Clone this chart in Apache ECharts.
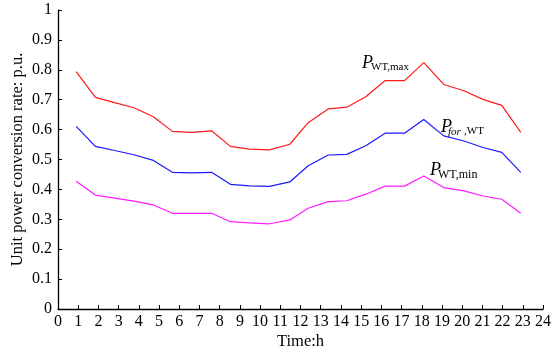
<!DOCTYPE html>
<html><head><meta charset="utf-8">
<script src="https://cdn.jsdelivr.net/npm/echarts@6/dist/echarts.min.js"></script>
<style>html,body{margin:0;padding:0;background:#fff}#c{width:558px;height:352px}</style>
</head><body><div id="c"></div>
<script>
const hours = [0.9,1.85,2.8,3.76,4.72,5.66,6.6,7.6,8.53,9.48,10.47,11.47,12.38,13.37,14.29,15.23,16.19,17.15,18.1,19.09,20.09,21.03,21.96,22.9];
const pMax = [0.794,0.708,0.690,0.673,0.643,0.594,0.591,0.596,0.544,0.535,0.532,0.551,0.623,0.669,0.675,0.710,0.764,0.764,0.824,0.751,0.730,0.701,0.681,0.591];
const pFor = [0.611,0.544,0.530,0.516,0.497,0.457,0.455,0.457,0.417,0.412,0.410,0.425,0.479,0.515,0.517,0.546,0.588,0.588,0.634,0.579,0.562,0.540,0.524,0.457];
const pMin = [0.427,0.381,0.371,0.361,0.348,0.320,0.320,0.320,0.292,0.288,0.285,0.298,0.337,0.359,0.362,0.384,0.411,0.411,0.445,0.406,0.395,0.378,0.367,0.320];
const xTicks = [0,24,1];
const yTicks = [0,1,0.1];

const F = '"Liberation Serif","Times New Roman",serif';
const pair = arr => hours.map((h,i)=>[h,arr[i]]);
const chart = echarts.init(document.getElementById('c'));
const axisCommon = {
  axisLine:{show:true,lineStyle:{color:'#000',width:1.3}},
  axisTick:{show:true,inside:true,length:4,lineStyle:{color:'#000',width:1}},
  splitLine:{show:false},
  axisLabel:{color:'#000',fontFamily:F,fontSize:16},
  nameTextStyle:{color:'#000',fontFamily:F,fontSize:16.5},
  nameMoveOverlap:false
};
function ser(name,data,color){
  return {name,type:'line',data:pair(data),symbol:'none',lineStyle:{color,width:1.2},itemStyle:{color},animation:false};
}
function lbl(x,y,sub,subItalic,size,off){
  const els=[{type:'text',left:x,top:y,style:{text:'P',font:'italic 18px '+F,fill:'#000'}}];
  let sx=x+off;
  if(subItalic){
    els.push({type:'text',left:sx,top:y+9,style:{text:subItalic,font:'italic '+size+'px '+F,fill:'#000'}});
    sx+=16;
  }
  els.push({type:'text',left:sx,top:y+8,style:{text:sub,font:size+'px '+F,fill:'#000'}});
  return els;
}
chart.setOption({
  animation:false,
  grid:{left:58,right:15,top:10,bottom:43,containLabel:false,outerBoundsMode:'none'},
  xAxis:Object.assign({},axisCommon,{type:'value',min:xTicks[0],max:xTicks[1],interval:xTicks[2],name:'Time:h',nameLocation:'middle',nameGap:24,
    axisLabel:Object.assign({},axisCommon.axisLabel,{margin:5})}),
  yAxis:Object.assign({},axisCommon,{type:'value',min:yTicks[0],max:yTicks[1],interval:yTicks[2],name:'Unit power conversion rate: p.u.',nameLocation:'middle',nameGap:32,
    axisLabel:Object.assign({},axisCommon.axisLabel,{margin:6,formatter:v=>String(+v.toFixed(1))})}),
  series:[ser('max',pMax,'#ff1a1a'),ser('for',pFor,'#1a1aff'),ser('min',pMin,'#ff1aff')],
  graphic:[].concat(
    lbl(362,54,'WT,max',null,11,9),
    lbl(441,118,',WT','for',11,7),
    lbl(430,161,'WT,min',null,12,8)
  )
});
</script></body></html>
